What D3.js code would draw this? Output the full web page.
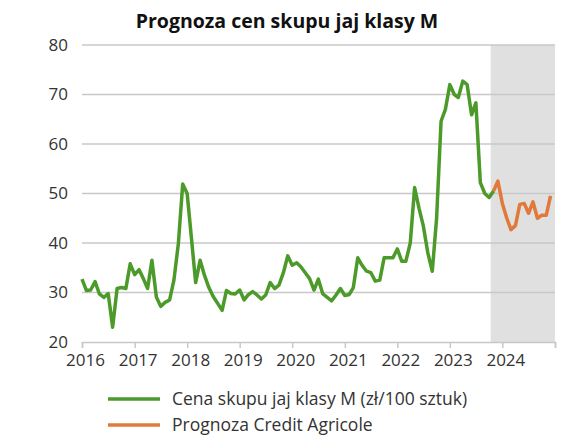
<!DOCTYPE html>
<html><head><meta charset="utf-8">
<script src="https://cdn.jsdelivr.net/npm/d3@7"></script>
<style>body{margin:0;background:#fff}text{font-family:"Open Sans",sans-serif}</style>
</head><body><svg id="c" width="580" height="445"></svg>
<script>
// monthly data from Jan 2016
var startYear = 2016;
var years = [2016, 2017, 2018, 2019, 2020, 2021, 2022, 2023, 2024];
var yTicks = [20, 30, 40, 50, 60, 70, 80];
var cena = [32.7,30.4,30.5,32.2,29.7,29.0,29.8,23.0,30.8,31.0,30.8,35.8,
  33.6,34.6,32.9,30.8,36.5,29.1,27.2,28,28.5,32.5,39.9,51.9,
  50,40.6,32,36.5,33.5,31,29.2,27.8,26.4,30.4,29.8,29.7,
  30.5,28.5,29.5,30.2,29.5,28.7,29.5,32,30.8,31.5,34,37.4,
  35.5,36,35.2,34,32.8,30.5,32.7,29.7,29,28.3,29.5,30.8,
  29.4,29.6,31,37,35.5,34.3,34,32.3,32.5,37,37,37,
  38.8,36.3,36.3,40,51.2,47,43.4,38,34.3,45,64.6,67,
  72,70,69.4,72.7,72,65.9,68.3,52.2,50,49.2,50.5];
var prognozaStart = 94;
var prognoza = [50.5,52.5,48,45,42.7,43.5,47.8,48,46,48.3,45,45.6,45.6,49.5];
var shadeStart = new Date(2023, 9, 12);
var legend = [["Cena skupu jaj klasy M (zł/100 sztuk)", "#4c9a2a"], ["Prognoza Credit Agricole", "#e0793a"]];

var svg = d3.select("#c");
var x = d3.scaleTime().domain([new Date(2016, 0, 1), new Date(2025, 0, 1)]).range([82, 555]);
var y = d3.scaleLinear().domain([20, 80]).range([342, 45]);
function md(i) { return new Date(startYear, i, 1); }

svg.append("rect").attr("x", x(shadeStart)).attr("y", 45)
  .attr("width", x.range()[1] - x(shadeStart)).attr("height", 297).attr("fill", "#e0e0e0");

svg.selectAll("line.grid").data(yTicks.slice(1)).enter().append("line")
  .attr("x1", 82).attr("x2", 555).attr("y1", y).attr("y2", y)
  .attr("stroke", "#c8c8c8").attr("stroke-width", 1.5);

var xa = svg.append("g").attr("transform", "translate(0,342)")
  .call(d3.axisBottom(x).tickValues(years.map(function(v){return new Date(v,0,1);}).concat([new Date(2025,0,1)]))
    .tickFormat(function(d){ return d.getFullYear() < 2025 ? d.getFullYear() : ""; }).tickSize(6).tickPadding(6));
xa.select(".domain").attr("stroke", "#c8c8c8").attr("stroke-width", 1.5);
xa.selectAll("line").attr("stroke", "#c8c8c8").attr("stroke-width", 1.5);
xa.selectAll("text").attr("font-size", 17).attr("fill", "#333").attr("dx", 3);

var ya = svg.append("g").attr("transform", "translate(82,0)")
  .call(d3.axisLeft(y).tickValues(yTicks).tickSize(0).tickPadding(14));
ya.select(".domain").remove();
ya.selectAll("text").attr("font-size", 17).attr("fill", "#333");

var line = d3.line().x(function(d){ return x(md(d[0])); }).y(function(d){ return y(d[1]); });
svg.append("path").datum(cena.map(function(v,i){ return [i, v]; }))
  .attr("d", line).attr("fill", "none").attr("stroke", legend[0][1]).attr("stroke-width", 3.5).attr("stroke-linejoin", "round");
svg.append("path").datum(prognoza.map(function(v,i){ return [prognozaStart + i, v]; }))
  .attr("d", line).attr("fill", "none").attr("stroke", legend[1][1]).attr("stroke-width", 3.5).attr("stroke-linejoin", "round");

svg.append("text").attr("x", 287).attr("y", 28).attr("text-anchor", "middle")
  .attr("font-size", 19.5).attr("font-weight", "bold").attr("fill", "#111").text("Prognoza cen skupu jaj klasy M");

var lg = svg.selectAll("g.lg").data(legend).enter().append("g")
  .attr("transform", function(d,i){ return "translate(108," + (399 + i*26) + ")"; });
lg.append("line").attr("x1", 0).attr("x2", 52).attr("stroke", function(d){ return d[1]; }).attr("stroke-width", 3.5);
lg.append("text").attr("x", 64).attr("y", 6).attr("font-size", 17.5).attr("fill", "#333").text(function(d){ return d[0]; });
</script></body></html>
